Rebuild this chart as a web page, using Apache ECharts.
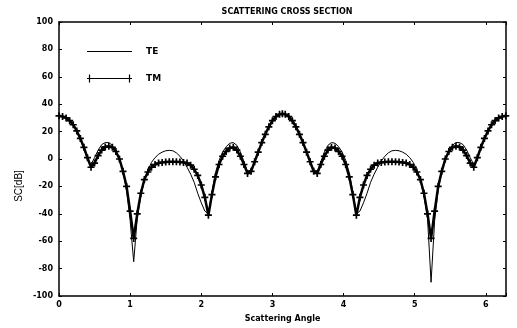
<!DOCTYPE html>
<html>
<head>
<meta charset="utf-8">
<script src="https://cdn.jsdelivr.net/npm/echarts@6/dist/echarts.min.js"></script>
<style>
html,body{margin:0;padding:0;background:#fff;}
#c{width:517px;height:328px;}
</style>
</head>
<body>
<div id="c"></div>
<script>
// Scattering angle samples (rad)
const angles = [
  0, 0.05, 0.10, 0.15, 0.20, 0.25, 0.30, 0.35, 0.40, 0.45,
  0.50, 0.55, 0.60, 0.65, 0.70, 0.75, 0.80, 0.85, 0.90, 0.95,
  1.00, 1.05, 1.10, 1.15, 1.20, 1.25, 1.30, 1.35, 1.40, 1.45,
  1.50, 1.55, 1.60, 1.65, 1.70, 1.75, 1.80, 1.85, 1.90, 1.95,
  2.00, 2.05, 2.10, 2.15, 2.20, 2.25, 2.30, 2.35, 2.40, 2.45,
  2.50, 2.55, 2.60, 2.65, 2.70, 2.75, 2.80, 2.85, 2.90, 2.95,
  3.00, 3.05, 3.10, 3.14,
  3.18, 3.23, 3.28, 3.33, 3.38, 3.43, 3.48, 3.53, 3.58, 3.63,
  3.68, 3.73, 3.78, 3.83, 3.88, 3.93, 3.98, 4.03, 4.08, 4.13,
  4.18, 4.23, 4.28, 4.33, 4.38, 4.43, 4.48, 4.53, 4.58, 4.63,
  4.68, 4.73, 4.78, 4.83, 4.88, 4.93, 4.98, 5.03, 5.08, 5.13,
  5.18, 5.23, 5.28, 5.33, 5.38, 5.43, 5.48, 5.53, 5.58, 5.63,
  5.68, 5.73, 5.78, 5.83, 5.88, 5.93, 5.98, 6.03, 6.08, 6.13,
  6.18, 6.23, 6.28
];
// TE scattering cross section (dB)
const te = [
  31.5, 31, 30, 28, 25, 20.5, 14.5, 7.5, -0.5, -4,
  1, 6.5, 10.5, 12, 12, 10, 6, 0, -9, -23,
  -45, -75, -43, -27, -16, -8, -2.5, 1, 3.5, 5,
  6, 6.3, 6, 4.5, 2, -1.5, -6, -11, -17, -25,
  -32, -38, -40, -24, -10, -1, 5, 9, 11.5, 12,
  10, 5, -2, -9, -8, -1.5, 5.5, 12, 18, 23.5,
  28, 31, 32.6, 33,
  32.6, 31, 28, 23.5, 18, 12, 5.5, -1.5, -8, -9,
  -2, 5, 10, 12, 11.5, 9, 5, -1, -10, -24,
  -40, -38, -32, -25, -17, -11, -6, -1.5, 2, 4.5,
  6, 6.3, 6, 5, 3.5, 1, -2.5, -8, -16, -27,
  -43, -90, -45, -23, -9, 0, 6, 10, 12, 12,
  10.5, 6.5, 1, -4, -0.5, 7.5, 14.5, 20.5, 25, 28,
  30, 31, 31.5
];
// TM scattering cross section (dB)
const tm = [
  31.5, 31, 30, 28, 25, 20.5, 15, 8.5, 1, -6,
  -3, 2.5, 6.5, 8.8, 9.3, 8.5, 5.5, 0, -9, -20,
  -38, -58, -40, -25, -15, -9.5, -6, -4, -3, -2.5,
  -2.2, -2, -2, -2, -2.2, -2.5, -3, -4.5, -7.5, -12,
  -19, -28, -41, -26, -13, -4, 2, 5.5, 8, 8.5,
  6.5, 2, -4, -10.5, -9, -2, 5, 12, 18, 23.5,
  28, 31, 32.6, 33,
  32.6, 31, 28, 23.5, 18, 12, 5, -2, -9, -10.5,
  -4, 2, 6.5, 8.5, 8, 5.5, 2, -4, -13, -26,
  -41, -28, -19, -12, -7.5, -4.5, -3, -2.5, -2.2, -2,
  -2, -2, -2.2, -2.5, -3, -4, -6, -9.5, -15, -25,
  -40, -58, -38, -20, -9, 0, 5.5, 8.5, 9.3, 8.8,
  6.5, 2.5, -3, -6, 1, 8.5, 15, 20.5, 25, 28,
  30, 31, 31.5
];
const xTicks = [0, 1, 2, 3, 4, 5, 6];
const yTicks = [-100, -80, -60, -40, -20, 0, 20, 40, 60, 80, 100];

const teData = angles.map((a, i) => [a, te[i]]);
const tmData = angles.map((a, i) => [a, tm[i]]);

const plusPath = 'path://M0,3.8H10V6.2H0Z M3.8,0H6.2V10H3.8Z';
const teIcon = 'path://M0,0L0,0M0,3.4H45V4.6H0ZM45,8L45,8';
const tmIcon = 'path://M0,3.4H45V4.6H0Z M1.9,0H3.1V8H1.9Z M41.9,0H43.1V8H41.9Z';
const labelFont = {color: '#000', fontFamily: 'DejaVu Sans', fontWeight: 'bold', fontSize: 8};
const lineStyle = {color: '#000', width: 1.5};

const chart = echarts.init(document.getElementById('c'), null, {renderer: 'canvas'});
chart.setOption({
  animation: false,
  backgroundColor: '#fff',
  title: {
    text: 'SCATTERING CROSS SECTION',
    left: 282, top: 3, textAlign: 'center',
    textStyle: {color: '#000', fontFamily: 'DejaVu Sans', fontWeight: 'bold', fontSize: 8}
  },
  grid: {left: 59, right: 11, top: 22, bottom: 32, containLabel: false},
  legend: {
    orient: 'vertical', left: 87, top: 47, padding: 0,
    itemWidth: 45, itemHeight: 8, itemGap: 18,
    data: [{name: 'TE', icon: teIcon}, {name: 'TM', icon: tmIcon}],
    itemStyle: {color: '#000', borderWidth: 0},
    lineStyle: {width: 0},
    textStyle: {color: '#000', fontFamily: 'DejaVu Sans', fontWeight: 'bold', fontSize: 9, padding: [0, 0, 0, 9]},
    selectedMode: false
  },
  xAxis: [{
    type: 'value', min: 0, max: 6.2832, interval: 1, position: 'bottom',
    name: 'Scattering Angle', nameLocation: 'middle', nameGap: 19,
    nameTextStyle: {color: '#000', fontFamily: 'DejaVu Sans', fontWeight: 'bold', fontSize: 8},
    axisLine: {onZero: false, lineStyle: lineStyle},
    axisTick: {inside: true, length: 3, lineStyle: {color: '#000', width: 1}},
    axisLabel: Object.assign({margin: 5, formatter: v => xTicks.includes(v) ? String(v) : ''}, labelFont),
    splitLine: {show: false}
  }, {
    type: 'value', min: 0, max: 6.2832, interval: 1, position: 'top',
    axisLine: {onZero: false, lineStyle: lineStyle},
    axisTick: {inside: true, length: 3, lineStyle: {color: '#000', width: 1}},
    axisLabel: {show: false}, splitLine: {show: false}
  }],
  yAxis: [{
    type: 'value', min: -100, max: 100, interval: 20, position: 'left',
    axisLine: {onZero: false, lineStyle: lineStyle},
    axisTick: {inside: true, length: 3, lineStyle: {color: '#000', width: 1}},
    axisLabel: Object.assign({margin: 6, formatter: v => yTicks.includes(v) ? String(v) : ''}, labelFont),
    splitLine: {show: false}
  }, {
    type: 'value', min: -100, max: 100, interval: 20, position: 'right',
    axisLine: {onZero: false, lineStyle: lineStyle},
    axisTick: {inside: true, length: 3, lineStyle: {color: '#000', width: 1}},
    axisLabel: {show: false}, splitLine: {show: false}
  }],
  graphic: [{
    type: 'text', x: 19, y: 186, rotation: Math.PI / 2,
    style: {text: 'SC[dB]', align: 'center', verticalAlign: 'middle', fill: '#000',
      font: '10px "Liberation Sans", Arial, sans-serif'}
  }],
  series: [{
    name: 'TE', type: 'line', data: teData, symbol: 'none',
    lineStyle: {color: '#000', width: 1}, itemStyle: {color: '#000'}, z: 3
  }, {
    name: 'TM', type: 'line', data: tmData, symbol: plusPath, symbolSize: 7, showAllSymbol: true,
    lineStyle: {color: '#000', width: 2.5}, itemStyle: {color: '#000'}, z: 2
  }]
});
</script>
</body>
</html>
